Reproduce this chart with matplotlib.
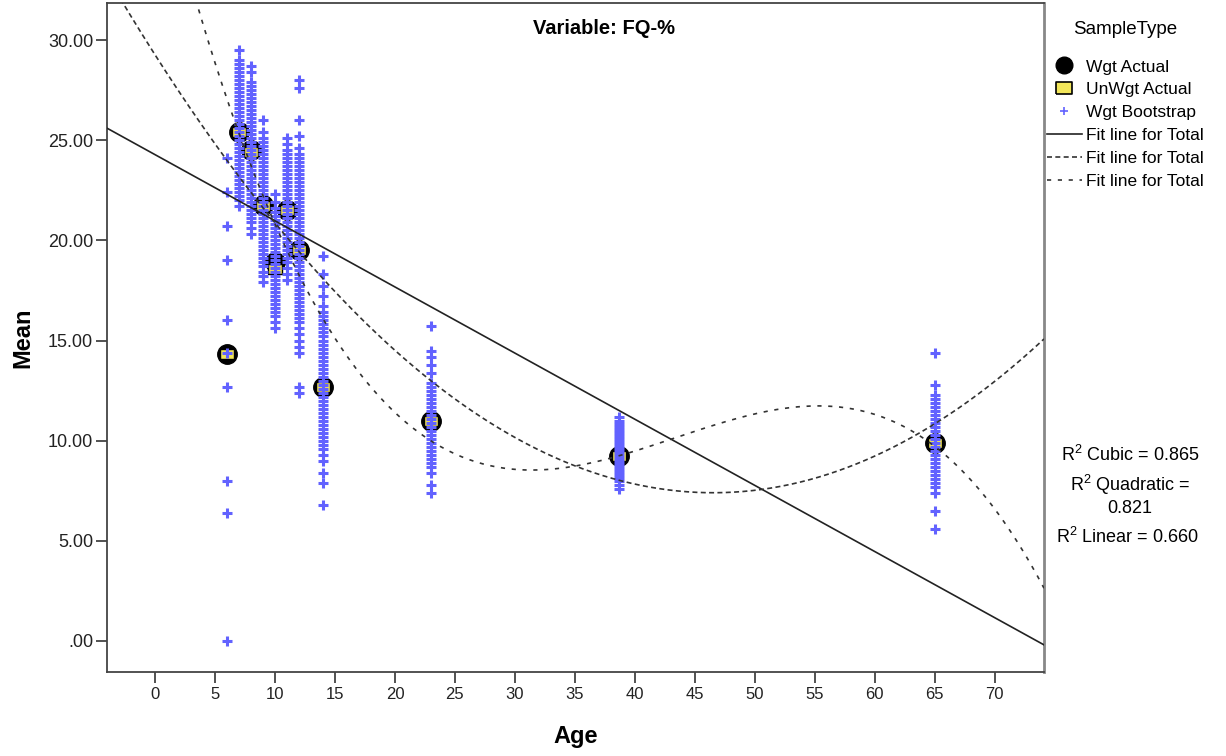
import matplotlib
matplotlib.use("Agg")
import matplotlib.pyplot as plt
import numpy as np
from matplotlib.lines import Line2D

plt.rcParams['font.family'] = ['Liberation Sans', 'DejaVu Sans']

# ---------------- data ----------------
ages = [6, 7, 8, 9, 10, 11, 12, 14, 23, 38.7, 65]
wgt_actual = [14.35, 25.4, 24.5, 21.75, 18.9, 21.5, 19.5, 12.7, 11.0, 9.25, 9.9]
unwgt_actual = [14.35, 25.4, 24.4, 21.7, 18.55, 21.5, 19.5, 12.7, 11.0, 9.25, 9.9]

boot_age6 = [24.1, 22.4, 20.7, 19.0, 16.0, 14.4, 12.7, 8.0, 6.4, 0.0]
boot_age7 = [29.5, 29.0, 28.8, 28.6, 28.4, 28.2, 28.0, 27.8, 27.6, 27.4, 27.2, 27.0,
             26.8, 26.6, 26.4, 26.2, 26.0, 25.8, 25.6, 25.4, 25.2, 25.0, 24.8, 24.6,
             24.4, 24.2, 24.0, 23.8, 23.6, 23.4, 23.2, 23.0, 22.8, 22.6, 22.4, 22.2,
             22.0, 21.7]
boot_age8 = [28.7, 28.4, 27.9, 27.7, 27.5, 27.3, 27.1, 26.9, 26.7, 26.5, 26.3, 26.1,
             25.9, 25.7, 25.5, 25.3, 25.1, 24.9, 24.7, 24.5, 24.3, 24.1, 23.9, 23.7,
             23.5, 23.3, 23.1, 22.9, 22.7, 22.5, 22.3, 22.1, 21.9, 21.7, 21.5, 21.3,
             21.1, 20.9, 20.6, 20.3]
boot_age9 = [26.0, 25.4, 25.1, 24.9, 24.7, 24.5, 24.3, 24.1, 23.9, 23.7, 23.5, 23.3,
             23.1, 22.9, 22.7, 22.5, 22.3, 22.1, 21.9, 21.7, 21.5, 21.3, 21.1, 20.9,
             20.7, 20.5, 20.3, 20.1, 19.9, 19.7, 19.5, 19.3, 19.1, 18.9, 18.7, 18.4,
             18.2, 17.9]
boot_age10 = [22.3, 21.9, 21.6, 21.4, 21.2, 21.0, 20.8, 20.6, 20.4, 20.2, 20.0, 19.8,
              19.6, 19.4, 19.2, 19.0, 18.8, 18.6, 18.4, 18.2, 18.0, 17.8, 17.6, 17.4,
              17.2, 17.0, 16.8, 16.6, 16.4, 16.2, 15.9, 15.6]
boot_age11 = [25.1, 24.8, 24.5, 24.3, 24.1, 23.9, 23.7, 23.5, 23.3, 23.1, 22.9, 22.7,
              22.5, 22.3, 22.1, 21.9, 21.7, 21.5, 21.3, 21.1, 20.9, 20.7, 20.5, 20.3,
              20.1, 19.9, 19.7, 19.5, 19.3, 19.1, 18.9, 18.6, 18.3, 18.0]
boot_age12 = [28.0, 27.6, 26.0, 25.2, 24.6, 24.3, 24.1, 23.9, 23.7, 23.5, 23.3, 23.1,
              22.9, 22.7, 22.5, 22.3, 22.1, 21.9, 21.7, 21.5, 21.3, 21.1, 20.9, 20.7,
              20.5, 20.3, 20.1, 19.9, 19.7, 19.5, 19.3, 19.1, 18.9, 18.7, 18.5, 18.3,
              18.1, 17.9, 17.7, 17.5, 17.3, 17.1, 16.9, 16.7, 16.5, 16.3, 16.1, 15.9,
              15.6, 15.3, 15.0, 14.7, 14.4, 12.7, 12.4]
boot_age14 = [19.2, 18.3, 17.7, 17.2, 16.7, 16.4, 16.2, 16.0, 15.8, 15.6, 15.4, 15.2,
              15.0, 14.8, 14.6, 14.4, 14.2, 14.0, 13.8, 13.6, 13.4, 13.2, 13.0, 12.8,
              12.6, 12.4, 12.2, 12.0, 11.8, 11.6, 11.4, 11.2, 11.0, 10.8, 10.6, 10.4,
              10.2, 10.0, 9.8, 9.6, 9.3, 9.0, 8.4, 7.9, 6.8]
boot_age23 = [15.7, 14.5, 14.2, 13.8, 13.4, 12.9, 12.7, 12.5, 12.3, 12.1, 11.9, 11.7,
              11.5, 11.3, 11.1, 10.9, 10.7, 10.5, 10.3, 10.1, 9.9, 9.7, 9.5, 9.3,
              9.1, 8.9, 8.7, 8.4, 7.8, 7.4]
boot_age39 = [11.2, 11.0, 10.85, 10.7, 10.55, 10.4, 10.25, 10.1, 9.95, 9.8, 9.65, 9.5,
              9.35, 9.2, 9.05, 8.9, 8.75, 8.6, 8.45, 8.3, 8.15, 8.0, 7.8, 7.6]
boot_age65 = [14.4, 12.8, 12.3, 12.1, 11.9, 11.7, 11.5, 11.3, 11.1, 10.9, 10.7, 10.5,
              10.3, 10.1, 9.9, 9.7, 9.5, 9.3, 9.1, 8.9, 8.7, 8.5, 8.3, 8.1,
              7.9, 7.7, 7.4, 6.5, 5.6]
boot_columns = [boot_age6, boot_age7, boot_age8, boot_age9, boot_age10, boot_age11,
                boot_age12, boot_age14, boot_age23, boot_age39, boot_age65]

# fit coefficients (highest power first)
linear_coef = [-0.3303, 24.28]
quadratic_coef = [0.0101, -0.93991, 29.267]
cubic_coef = [-4.697e-4, 0.061054, -2.4443, 39.628]

r2_labels = ["R$\\mathregular{^2}$ Cubic = 0.865",
             "R$\\mathregular{^2}$ Quadratic =\n0.821",
             "R$\\mathregular{^2}$ Linear = 0.660"]

xticks = list(range(0, 75, 5))
yticks = [0, 5, 10, 15, 20, 25, 30]
ytick_labels = [".00", "5.00", "10.00", "15.00", "20.00", "25.00", "30.00"]

# ---------------- figure ----------------
W, H = 1226, 756
fig = plt.figure(figsize=(W / 100, H / 100), dpi=100)
ax = fig.add_axes([107 / W, 1 - 672 / H, (1044 - 107) / W, (672 - 3) / H])
xmin, xmax = -4.0, 74.1
ax.set_xlim(xmin, xmax)
ax.set_ylim(-1.55, 31.85)

boot_color = '#6262FF'
yellow = '#F2E65A'

ax.plot(ages, wgt_actual, linestyle='none', marker='o', markersize=14,
        markerfacecolor='black', markeredgecolor='black', zorder=3)
rect_marker = [(-1.4, -1.0), (1.4, -1.0), (1.4, 1.0), (-1.4, 1.0), (-1.4, -1.0)]
ax.plot(ages, unwgt_actual, linestyle='none', marker=rect_marker, markersize=10,
        markerfacecolor=yellow, markeredgecolor='black', markeredgewidth=1.0, zorder=4)
for a, col in zip(ages, boot_columns):
    ax.plot([a] * len(col), col, linestyle='none', marker='+', markersize=7.5,
            markeredgewidth=2.2, color=boot_color, zorder=5)

xs = np.linspace(xmin, xmax, 400)
ax.plot(xs, np.polyval(linear_coef, xs), color='#222222', lw=1.2, zorder=6)
ax.plot(xs, np.polyval(quadratic_coef, xs), color='#333333', lw=1.2,
        linestyle=(0, (3, 2)), zorder=6)
ax.plot(xs, np.polyval(cubic_coef, xs), color='#333333', lw=1.2,
        linestyle=(0, (2.5, 4)), zorder=6)

ax.set_xticks(xticks)
ax.set_xticklabels([str(t) for t in xticks], fontsize=12)
ax.set_yticks(yticks)
ax.set_yticklabels(ytick_labels, fontsize=13)
ax.tick_params(axis='both', direction='out', length=8, width=1.2, color='#333333',
               labelcolor='#222222')
ax.tick_params(axis='x', pad=3)
ax.tick_params(axis='y', pad=2)
for s in ax.spines.values():
    s.set_color('#444444')
    s.set_linewidth(1.3)
ax.spines['right'].set_color('#888888')
ax.spines['right'].set_linewidth(2)

ax.set_xlabel('Age', fontsize=17, fontweight='bold', labelpad=16)
ax.set_ylabel('Mean', fontsize=17, fontweight='bold', labelpad=10)
ax.text(604 / W, 1 - 28 / H, 'Variable: FQ-%', transform=fig.transFigure, ha='center',
        va='center', fontsize=14.5, fontweight='bold')

# legend
handles = [
    Line2D([], [], linestyle='none', marker='o', markersize=12, color='black'),
    Line2D([], [], linestyle='none', marker=rect_marker, markersize=12,
           markerfacecolor=yellow, markeredgecolor='black', markeredgewidth=1.2),
    Line2D([], [], linestyle='none', marker='+', markersize=6, markeredgewidth=1.2,
           color=boot_color),
    Line2D([], [], color='#222222', lw=1.2),
    Line2D([], [], color='#333333', lw=1.2, linestyle=(0, (3, 2))),
    Line2D([], [], color='#333333', lw=1.2, linestyle=(0, (2.5, 4))),
]
labels = ['Wgt Actual', 'UnWgt Actual', 'Wgt Bootstrap',
          'Fit line for Total', 'Fit line for Total', 'Fit line for Total']
leg = fig.legend(handles, labels, loc='upper left', bbox_to_anchor=(1047 / W, 1 - 21 / H),
                 frameon=False, fontsize=12.5, title='SampleType', title_fontsize=13.5,
                 handlelength=2.0, handleheight=0.8, handletextpad=0.25,
                 labelspacing=0.42, borderaxespad=0, borderpad=0)
leg._legend_box.sep = 15

fig.text(1130 / W, 1 - 455 / H, r2_labels[0], ha='center', va='center', fontsize=13)
fig.text(1130 / W, 1 - 495 / H, r2_labels[1], ha='center', va='center', fontsize=13,
         linespacing=1.25, multialignment='center')
fig.text(1127 / W, 1 - 537 / H, r2_labels[2], ha='center', va='center', fontsize=13)

fig.savefig('out.png', dpi=100)
